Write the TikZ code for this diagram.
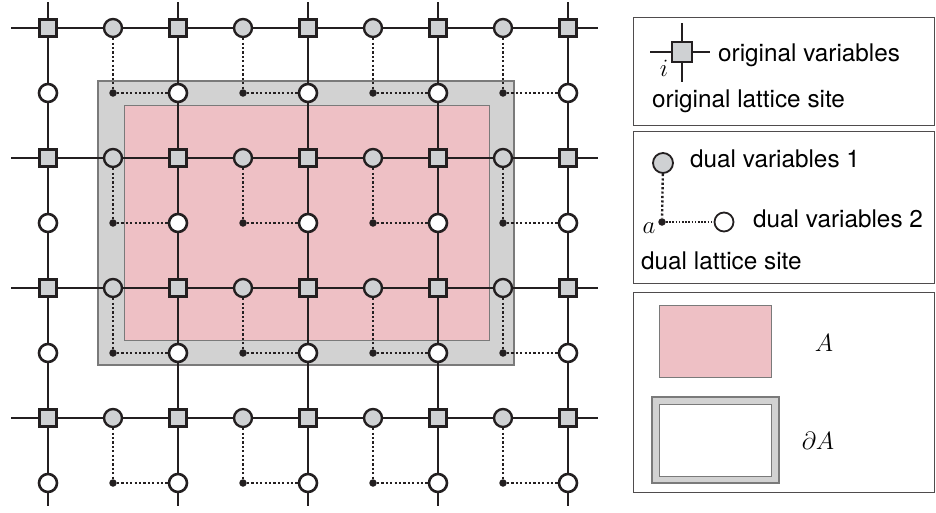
\documentclass[tikz,border=0pt]{standalone}
\usepackage{fontspec}
\setmainfont{TeX Gyre Heros}
\pgfdeclarelayer{bg}
\pgfdeclarelayer{lines}
\pgfsetlayers{bg,lines,main}
\definecolor{ink}{HTML}{231F20}
\definecolor{nodegray}{HTML}{CFD1D3}
\definecolor{bandgray}{HTML}{D2D2D2}
\definecolor{pinkA}{HTML}{EEC0C5}
\definecolor{rimgray}{HTML}{7A7A7A}
\begin{document}
\begin{tikzpicture}[x=1pt,y=-1pt,
  site/.style={draw=ink,fill=nodegray,line width=2.6pt,rectangle,minimum size=17.5pt,inner sep=0pt},
  dualone/.style={draw=ink,fill=nodegray,line width=2.4pt,circle,minimum size=18pt,inner sep=0pt},
  dualtwo/.style={draw=ink,fill=white,line width=2.6pt,circle,minimum size=18pt,inner sep=0pt},
  dsite/.style={fill=ink,circle,minimum size=7.5pt,inner sep=0pt},
  bond/.style={draw=ink,line width=2.4pt},
  dotlink/.style={draw=ink,line width=2.4pt,dash pattern=on 2.2pt off 2.2pt},
  thinlink/.style={draw=ink,line width=1.6pt,dash pattern=on 1.6pt off 1.6pt},
  legbox/.style={draw=ink!80,line width=1pt,rectangle,inner sep=0pt},
  txt/.style={inner sep=0pt,anchor=base west,font=\fontsize{24.3}{28}\selectfont},
  mth/.style={inner sep=0pt,anchor=base,font=\fontsize{27}{30}\selectfont},
  band/.style={draw=rimgray,fill=bandgray,line width=1.1pt,rectangle,inner sep=0pt},
  region/.style={draw=rimgray,fill=pinkA,line width=0.9pt,rectangle,inner sep=0pt}]
\useasboundingbox (0,0) rectangle (936,512);

% regions
\begin{pgfonlayer}{bg}
\node[band,minimum width=416pt,minimum height=284pt] (bnd) at (306,223) {};
\node[region,minimum width=365pt,minimum height=235pt] (reg) at (306.5,222.5) {};
\end{pgfonlayer}

% lattice nodes
\foreach \i in {0,...,4}{\foreach \j in {0,...,3}{
  \node[site] (s-\i-\j) at ({48+130*\i},{28+130*\j}) {};
  \node[dualtwo] (w-\i-\j) at ({48+130*\i},{93+130*\j}) {};
}}
\foreach \i in {0,...,3}{\foreach \j in {0,...,3}{
  \node[dualone] (g-\i-\j) at ({113+130*\i},{28+130*\j}) {};
  \node[dsite] (d-\i-\j) at ({113+130*\i},{93+130*\j}) {};
}}

\begin{pgfonlayer}{lines}
\foreach \j in {0,...,3}{
  \coordinate (hl-\j) at (11,{28+130*\j});
  \coordinate (hr-\j) at (598,{28+130*\j});
  \draw[bond] (hl-\j) -- (s-0-\j) -- (g-0-\j) -- (s-1-\j) -- (g-1-\j) -- (s-2-\j)
     -- (g-2-\j) -- (s-3-\j) -- (g-3-\j) -- (s-4-\j) -- (hr-\j);
}
\foreach \i in {0,...,4}{
  \coordinate (vt-\i) at ({48+130*\i},2);
  \coordinate (vb-\i) at ({48+130*\i},506);
  \draw[bond] (vt-\i) -- (s-\i-0) -- (w-\i-0) -- (s-\i-1) -- (w-\i-1) -- (s-\i-2)
     -- (w-\i-2) -- (s-\i-3) -- (w-\i-3) -- (vb-\i);
}
\foreach \i in {0,...,3}{\foreach \j in {0,...,3}{
  \pgfmathtruncatemacro\ii{\i+1}
  \draw[dotlink] (g-\i-\j) -- (d-\i-\j) -- (w-\ii-\j);
}}
\end{pgfonlayer}

% legend boxes
\node[legbox,minimum width=301pt,minimum height=108pt] (box1) at (784,71) {};
\node[legbox,minimum width=301pt,minimum height=152pt] (box2) at (784,207) {};
\node[legbox,minimum width=301pt,minimum height=200pt] (box3) at (784,392) {};

% legend 1
\coordinate (ll) at (650,52);
\coordinate (lr) at (710,52);
\coordinate (lt) at (682,23);
\coordinate (lb) at (682,82);
\node[site,minimum size=20pt,line width=2.6pt] (ls) at (682,52) {};
\draw[draw=ink,line width=1.4pt] (ll) -- (ls) -- (lr);
\draw[draw=ink,line width=1.4pt] (lt) -- (ls) -- (lb);
\node[mth,font=\fontsize{23}{26}\selectfont] (li) at (664,76) {$i$};
\node[txt] (t1) at (718,61.5) {original variables};
\node[txt] (t2) at (652,107) {original lattice site};

% legend 2
\node[dualone,minimum size=20pt,line width=1.8pt] (lg) at (663,163) {};
\node[dsite] (ld) at (662,222) {};
\node[dualtwo,minimum size=19pt,line width=1.8pt] (lw) at (724,222) {};
\draw[dotlink] (lg) -- (ld);
\draw[thinlink] (ld) -- (lw);
\node[txt] (t3) at (690,167) {dual variables 1};
\node[txt] (t4) at (753,227) {dual variables 2};
\node[mth] (la) at (649,233) {$a$};
\node[txt] (t5) at (641,269) {dual lattice site};

% legend 3
\node[region,minimum width=112pt,minimum height=72pt] (lA) at (715,341) {};
\node[mth] (tA) at (824,351) {$A$};
\node[band,minimum width=127pt,minimum height=86pt] (lB) at (715.5,440) {};
\node[draw=rimgray,fill=white,line width=0.9pt,rectangle,inner sep=0pt,minimum width=112pt,minimum height=72pt] (lBi) at (715,440) {};
\node[mth] (tB) at (818,449) {$\partial A$};
\end{tikzpicture}
\end{document}
